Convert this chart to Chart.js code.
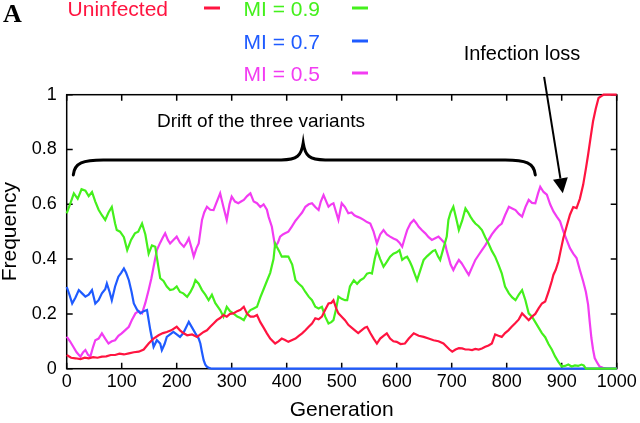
<!DOCTYPE html>
<html>
<head>
<meta charset="utf-8">
<script src="https://cdn.jsdelivr.net/npm/chart.js@4/dist/chart.umd.min.js"></script>
<style>
html,body{margin:0;padding:0;background:#fff;}
#wrap{position:relative;width:640px;height:423px;}
</style>
</head>
<body>
<div id="wrap"><canvas id="c"></canvas></div>
<script>
// ---- Data ----
const seriesNames = ['Uninfected', 'MI = 0.9', 'MI = 0.7', 'MI = 0.5'];

const uninfectedGen = [0,8,16,25,33,40,48,56,64,72,80,88,96,104,113,122,131,140,149,158,167,175,182,190,200,206,212,219,228,237,243,249,255,261,267,273,279,285,291,297,303,310,316,322,328,334,340,346,352,358,364,370,379,385,391,397,403,410,416,422,428,434,440,446,452,458,464,470,476,481,485,490,494,500,506,512,518,524,530,536,542,546,552,558,564,570,576,582,588,594,600,607,615,622,631,640,649,658,667,676,685,691,696,701,707,713,719,725,731,737,743,749,755,761,767,773,779,785,791,797,803,809,815,822,828,834,840,846,852,858,864,870,876,882,885,889,894,898,903,909,915,921,927,933,939,944,948,953,957,962,967,972,976,1000];
const uninfectedFreq = [0.05,0.04,0.038,0.035,0.04,0.038,0.042,0.04,0.044,0.045,0.05,0.05,0.055,0.052,0.056,0.06,0.062,0.07,0.092,0.11,0.122,0.13,0.134,0.14,0.153,0.14,0.13,0.122,0.125,0.116,0.125,0.134,0.14,0.153,0.165,0.177,0.185,0.196,0.19,0.20,0.202,0.21,0.215,0.226,0.20,0.19,0.19,0.196,0.17,0.15,0.129,0.11,0.092,0.10,0.11,0.105,0.098,0.105,0.11,0.12,0.129,0.14,0.153,0.165,0.184,0.18,0.19,0.215,0.238,0.24,0.25,0.22,0.202,0.19,0.177,0.16,0.15,0.14,0.13,0.14,0.15,0.153,0.13,0.11,0.092,0.11,0.12,0.129,0.11,0.10,0.098,0.09,0.092,0.11,0.129,0.12,0.116,0.11,0.104,0.10,0.092,0.08,0.07,0.062,0.07,0.075,0.074,0.07,0.07,0.068,0.072,0.07,0.074,0.08,0.085,0.092,0.125,0.12,0.116,0.13,0.14,0.153,0.165,0.18,0.202,0.19,0.177,0.19,0.2,0.22,0.238,0.245,0.28,0.32,0.343,0.36,0.391,0.43,0.477,0.52,0.562,0.59,0.586,0.62,0.671,0.73,0.781,0.85,0.903,0.95,0.988,0.995,1.0,1.0];

const mi09Gen = [0,6,13,20,27,34,40,46,52,58,64,70,76,82,88,91,97,104,110,117,124,130,137,143,149,155,161,166,170,176,182,188,194,200,206,212,219,225,230,234,240,246,252,258,264,270,279,285,291,297,303,310,316,322,328,334,340,346,352,358,364,370,376,379,382,386,391,397,403,410,416,422,428,434,440,446,452,458,464,470,476,481,485,490,494,500,506,510,515,522,528,534,540,546,551,555,560,564,570,576,582,588,594,600,605,610,615,619,624,628,632,637,643,649,655,661,666,670,675,679,685,691,694,698,703,708,713,719,725,730,734,739,743,749,755,761,767,773,779,785,791,797,804,810,816,822,828,834,840,846,852,858,864,870,876,882,888,894,900,906,912,918,924,930,936,940,944,1000];
const mi09Freq = [0.567,0.60,0.64,0.62,0.655,0.65,0.63,0.645,0.61,0.58,0.56,0.543,0.57,0.59,0.53,0.506,0.50,0.48,0.433,0.47,0.494,0.50,0.53,0.49,0.42,0.45,0.445,0.38,0.33,0.32,0.30,0.287,0.29,0.30,0.28,0.275,0.262,0.28,0.30,0.323,0.31,0.287,0.27,0.25,0.27,0.24,0.214,0.19,0.226,0.21,0.202,0.19,0.185,0.177,0.20,0.214,0.22,0.226,0.26,0.29,0.32,0.35,0.40,0.457,0.445,0.43,0.409,0.41,0.409,0.38,0.323,0.31,0.299,0.28,0.263,0.25,0.226,0.22,0.226,0.19,0.165,0.17,0.177,0.22,0.263,0.255,0.25,0.25,0.30,0.323,0.31,0.323,0.33,0.347,0.35,0.347,0.40,0.433,0.40,0.372,0.39,0.409,0.42,0.425,0.433,0.397,0.405,0.409,0.39,0.372,0.35,0.323,0.36,0.397,0.41,0.421,0.43,0.433,0.41,0.397,0.44,0.482,0.543,0.57,0.591,0.55,0.506,0.54,0.585,0.57,0.555,0.54,0.53,0.52,0.506,0.48,0.457,0.43,0.409,0.38,0.348,0.30,0.275,0.26,0.25,0.27,0.287,0.25,0.202,0.19,0.17,0.15,0.13,0.115,0.09,0.07,0.045,0.025,0.008,0.01,0.015,0.008,0.012,0.01,0.015,0.012,0,0];

const mi07Gen = [0,5,10,16,22,28,34,40,46,52,58,64,70,73,78,82,88,94,99,104,108,113,118,122,128,134,140,146,152,158,164,170,173,178,182,188,194,200,206,212,217,222,228,234,240,243,246,249,252,255,260,264,1000];
const mi07Freq = [0.299,0.27,0.238,0.26,0.287,0.275,0.263,0.27,0.287,0.238,0.25,0.275,0.29,0.311,0.28,0.25,0.30,0.336,0.35,0.366,0.35,0.323,0.28,0.238,0.215,0.202,0.21,0.214,0.141,0.08,0.104,0.092,0.068,0.09,0.116,0.125,0.134,0.125,0.116,0.13,0.15,0.171,0.15,0.129,0.11,0.092,0.06,0.031,0.015,0.007,0.002,0,0];

const mi05Gen = [0,6,12,18,25,30,34,39,43,48,52,58,64,70,76,82,88,94,100,106,113,119,125,131,137,143,149,154,158,164,170,175,179,184,188,194,200,206,213,218,222,227,231,236,240,243,246,250,255,261,267,273,279,285,291,296,300,306,312,317,322,328,334,340,346,352,358,364,367,373,379,384,388,393,397,403,409,416,422,428,434,440,446,452,458,462,467,472,476,481,485,490,494,500,506,512,518,523,528,534,540,546,552,558,564,570,576,582,588,594,600,605,610,615,619,625,631,636,640,646,652,658,664,670,676,682,688,691,694,698,703,708,713,718,722,727,731,737,743,749,755,761,767,773,779,785,791,797,804,810,816,822,828,834,840,846,852,857,861,867,873,879,885,891,897,903,909,915,921,927,933,939,944,948,951,954,957,960,965,969,975,982,1000];
const mi05Freq = [0.117,0.10,0.08,0.06,0.044,0.06,0.068,0.05,0.044,0.08,0.104,0.11,0.129,0.11,0.092,0.10,0.104,0.12,0.129,0.14,0.153,0.18,0.202,0.21,0.202,0.24,0.287,0.33,0.372,0.433,0.46,0.48,0.494,0.47,0.457,0.47,0.482,0.46,0.445,0.46,0.476,0.44,0.409,0.44,0.457,0.50,0.543,0.57,0.591,0.58,0.579,0.61,0.64,0.59,0.543,0.60,0.628,0.61,0.604,0.61,0.616,0.63,0.64,0.61,0.604,0.59,0.60,0.58,0.555,0.518,0.445,0.46,0.482,0.49,0.494,0.50,0.518,0.54,0.555,0.57,0.591,0.60,0.604,0.59,0.579,0.61,0.634,0.61,0.591,0.60,0.604,0.57,0.543,0.604,0.59,0.567,0.57,0.56,0.555,0.55,0.543,0.535,0.53,0.50,0.457,0.49,0.506,0.49,0.482,0.475,0.47,0.46,0.445,0.48,0.506,0.53,0.543,0.53,0.518,0.505,0.494,0.48,0.47,0.476,0.482,0.47,0.457,0.43,0.409,0.38,0.36,0.38,0.397,0.385,0.372,0.355,0.342,0.37,0.397,0.415,0.433,0.45,0.47,0.49,0.506,0.52,0.53,0.56,0.591,0.585,0.579,0.565,0.555,0.59,0.616,0.605,0.604,0.64,0.664,0.645,0.635,0.60,0.574,0.555,0.538,0.501,0.47,0.44,0.42,0.404,0.36,0.319,0.28,0.234,0.17,0.112,0.07,0.039,0.02,0.008,0.003,0,0];

const xTicks = [0,100,200,300,400,500,600,700,800,900,1000];
const yTicks = [0,0.2,0.4,0.6,0.8,1];

// ---- Styling ----
const COLORS = ['#ff1440', '#44f01c', '#1f5bff', '#f23cf2'];
const FONT = '"Liberation Sans", Arial, Helvetica, sans-serif';

function pts(g, f) { return g.map((v, i) => ({x: v, y: f[i]})); }

const seriesData = [
  pts(uninfectedGen, uninfectedFreq),
  pts(mi09Gen, mi09Freq),
  pts(mi07Gen, mi07Freq),
  pts(mi05Gen, mi05Freq)
];

const decor = {
  id: 'decor',
  beforeDatasetsDraw(chart) {
    const {ctx, chartArea: a, scales: {x, y}} = chart;
    ctx.save();
    ctx.strokeStyle = '#000';
    ctx.lineWidth = 1.5;
    ctx.strokeRect(a.left, a.top, a.right - a.left, a.bottom - a.top);
    ctx.beginPath();
    const tl = 6;
    xTicks.forEach(v => {
      const px = x.getPixelForValue(v);
      ctx.moveTo(px, a.bottom); ctx.lineTo(px, a.bottom - tl);
      ctx.moveTo(px, a.top); ctx.lineTo(px, a.top + tl);
    });
    yTicks.forEach(v => {
      const py = y.getPixelForValue(v);
      ctx.moveTo(a.left, py); ctx.lineTo(a.left + tl, py);
      ctx.moveTo(a.right, py); ctx.lineTo(a.right - tl, py);
    });
    ctx.stroke();
    ctx.restore();
  },
  afterDraw(chart) {
    const {ctx, scales: {x, y}} = chart;
    ctx.save();
    // Panel letter
    ctx.fillStyle = '#000';
    ctx.font = 'bold 26px "Liberation Serif", "Times New Roman", serif';
    ctx.textAlign = 'left';
    ctx.textBaseline = 'alphabetic';
    ctx.fillText('A', 3, 22);

    // Legend
    ctx.font = '21px ' + FONT;
    ctx.textBaseline = 'middle';
    ctx.textAlign = 'right';
    const legendItems = [
      {t: seriesNames[0], c: COLORS[0], tx: 168, ty: 10, lx: 204, ly: 8},
      {t: seriesNames[1], c: COLORS[1], tx: 320, ty: 10, lx: 352, ly: 8},
      {t: seriesNames[2], c: COLORS[2], tx: 320, ty: 43, lx: 352, ly: 41},
      {t: seriesNames[3], c: COLORS[3], tx: 320, ty: 75, lx: 352, ly: 73}
    ];
    legendItems.forEach(it => {
      ctx.fillStyle = it.c;
      ctx.fillText(it.t, it.tx, it.ty);
      ctx.strokeStyle = it.c;
      ctx.lineWidth = 3;
      ctx.beginPath();
      ctx.moveTo(it.lx, it.ly); ctx.lineTo(it.lx + 16, it.ly);
      ctx.stroke();
    });

    // Brace annotation
    const Lx = x.getPixelForValue(12), Ly = y.getPixelForValue(0.707);
    const Rx = x.getPixelForValue(852), Ry = y.getPixelForValue(0.707);
    const Cx = x.getPixelForValue(430), Cy = y.getPixelForValue(0.824);
    const Yh = y.getPixelForValue(0.762);
    ctx.strokeStyle = '#000';
    ctx.lineWidth = 3;
    ctx.lineCap = 'round';
    ctx.beginPath();
    ctx.moveTo(Lx, Ly);
    ctx.bezierCurveTo(Lx + 1, Yh + 3, Lx + 10, Yh, Lx + 30, Yh);
    ctx.lineTo(Cx - 22, Yh);
    ctx.bezierCurveTo(Cx - 6, Yh, Cx - 2, Yh - 4, Cx, Cy);
    ctx.bezierCurveTo(Cx + 2, Yh - 4, Cx + 6, Yh, Cx + 22, Yh);
    ctx.lineTo(Rx - 30, Yh);
    ctx.bezierCurveTo(Rx - 10, Yh, Rx - 1, Yh + 3, Rx, Ry);
    ctx.stroke();

    ctx.fillStyle = '#000';
    ctx.font = '19px ' + FONT;
    ctx.textAlign = 'center';
    ctx.textBaseline = 'middle';
    ctx.fillText('Drift of the three variants', 261, 122);

    // Arrow annotation
    const ax0 = x.getPixelForValue(868), ay0 = y.getPixelForValue(1.065);
    const ax1 = x.getPixelForValue(902), ay1 = y.getPixelForValue(0.64);
    const ang = Math.atan2(ay1 - ay0, ax1 - ax0);
    const hl = 15, hw = 7.5;
    const bx = ax1 - hl * Math.cos(ang), by = ay1 - hl * Math.sin(ang);
    ctx.lineWidth = 2;
    ctx.lineCap = 'butt';
    ctx.beginPath();
    ctx.moveTo(ax0, ay0); ctx.lineTo(bx, by);
    ctx.stroke();
    ctx.beginPath();
    ctx.moveTo(ax1, ay1);
    ctx.lineTo(bx + hw * Math.sin(ang), by - hw * Math.cos(ang));
    ctx.lineTo(bx - hw * Math.sin(ang), by + hw * Math.cos(ang));
    ctx.closePath();
    ctx.fill();

    ctx.font = '20px ' + FONT;
    ctx.fillText('Infection loss', 522, 54);
    ctx.restore();
  }
};

Chart.defaults.font.family = FONT;
Chart.defaults.color = '#000';

new Chart(document.getElementById('c'), {
  type: 'line',
  data: {
    datasets: seriesData.map((d, i) => ({
      label: seriesNames[i],
      data: d,
      borderColor: COLORS[i],
      backgroundColor: COLORS[i],
      borderWidth: 2.2,
      pointRadius: 0,
      tension: 0,
      fill: false,
      clip: false,
      order: i
    }))
  },
  options: {
    responsive: true,
    maintainAspectRatio: false,
    devicePixelRatio: 1,
    animation: false,
    events: [],
    layout: {padding: {left: 0, right: 23.3, top: 94.7, bottom: 0}},
    plugins: {legend: {display: false}, tooltip: {enabled: false}},
    scales: {
      x: {
        type: 'linear',
        min: 0, max: 1000,
        afterBuildTicks: s => { s.ticks = xTicks.map(v => ({value: v})); },
        afterFit: s => { s.height = 54.3; },
        grid: {display: false, drawTicks: false},
        border: {display: false},
        ticks: {font: {size: 18}, padding: 3, maxRotation: 0, autoSkip: false, color: '#000', callback: v => String(v)},
        title: {display: true, text: 'Generation', font: {size: 21, lineHeight: 1.2}, padding: {top: 0, bottom: 0}, color: '#000'}
      },
      y: {
        type: 'linear',
        min: 0, max: 1,
        afterBuildTicks: s => { s.ticks = yTicks.map(v => ({value: v})); },
        afterFit: s => { s.width = 66.7; },
        grid: {display: false, drawTicks: false},
        border: {display: false},
        ticks: {font: {size: 18}, padding: 10, color: '#000', callback: v => String(v)},
        title: {display: true, text: 'Frequency', font: {size: 21, lineHeight: 1}, padding: {top: 0, bottom: 0}, color: '#000'}
      }
    }
  },
  plugins: [decor]
});
</script>
</body>
</html>
